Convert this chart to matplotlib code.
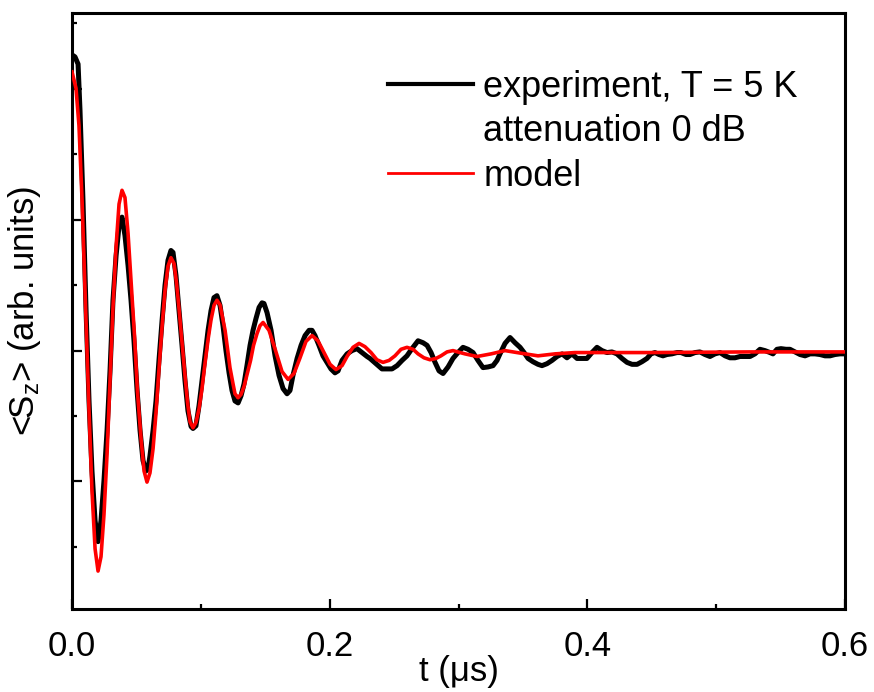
import matplotlib
matplotlib.use("Agg")
import matplotlib.pyplot as plt
from matplotlib.lines import Line2D
from matplotlib.ticker import FixedLocator, NullFormatter

plt.rcParams["font.family"] = ["Liberation Sans", "DejaVu Sans"]
plt.rcParams["mathtext.fontset"] = "custom"
plt.rcParams["mathtext.rm"] = "Liberation Sans"
plt.rcParams["mathtext.default"] = "regular"

# experiment, T = 5 K (time in us, <Sz> in arb. units)
t_exp = [0.0, 0.0023, 0.0047, 0.0062, 0.0085, 0.0109, 0.0132, 0.0155, 0.0179, 0.0202,
         0.0225, 0.0248, 0.0272, 0.0295, 0.0318, 0.0342, 0.0365, 0.0388, 0.0411, 0.0435,
         0.0458, 0.0481, 0.0505, 0.0528, 0.0551, 0.0574, 0.0590, 0.0605, 0.0629, 0.0652,
         0.0675, 0.0699, 0.0722, 0.0745, 0.0768, 0.0784, 0.0807, 0.0831, 0.0854, 0.0877,
         0.0900, 0.0924, 0.0939, 0.0962, 0.0986, 0.1009, 0.1032, 0.1056, 0.1079, 0.1102,
         0.1125, 0.1149, 0.1172, 0.1195, 0.1219, 0.1242, 0.1265, 0.1289, 0.1312, 0.1335,
         0.1358, 0.1382, 0.1405, 0.1428, 0.1452, 0.1475, 0.1490, 0.1514, 0.1545, 0.1576,
         0.1607, 0.1638, 0.1669, 0.1692, 0.1715, 0.1747, 0.1778, 0.1809, 0.1840, 0.1863,
         0.1886, 0.1917, 0.1948, 0.1979, 0.2010, 0.2041, 0.2065, 0.2096, 0.2135, 0.2173,
         0.2212, 0.2251, 0.2290, 0.2313, 0.2360, 0.2406, 0.2445, 0.2484, 0.2523, 0.2562,
         0.2600, 0.2639, 0.2686, 0.2725, 0.2756, 0.2787, 0.2818, 0.2849, 0.2880, 0.2919,
         0.2957, 0.2996, 0.3035, 0.3074, 0.3113, 0.3151, 0.3190, 0.3229, 0.3268, 0.3299,
         0.3322, 0.3361, 0.3400, 0.3439, 0.3478, 0.3509, 0.3540, 0.3578, 0.3617, 0.3648,
         0.3687, 0.3726, 0.3765, 0.3804, 0.3842, 0.3881, 0.3920, 0.3959, 0.3997, 0.4036,
         0.4075, 0.4114, 0.4153, 0.4191, 0.4230, 0.4269, 0.4308, 0.4347, 0.4386, 0.4424,
         0.4463, 0.4494, 0.4525, 0.4556, 0.4587, 0.4618, 0.4657, 0.4696, 0.4727, 0.4766,
         0.4797, 0.4836, 0.4874, 0.4913, 0.4952, 0.4991, 0.5030, 0.5069, 0.5107, 0.5146,
         0.5185, 0.5224, 0.5263, 0.5301, 0.5340, 0.5379, 0.5418, 0.5441, 0.5472, 0.5503,
         0.5542, 0.5573, 0.5612, 0.5651, 0.5690, 0.5729, 0.5767, 0.5806, 0.5845, 0.5884,
         0.5923, 0.5961, 0.6000]
s_exp = [4.52, 4.49, 4.38, 3.67, 2.30, 0.61, -0.77, -1.84, -2.60, -2.92,
         -2.60, -1.99, -1.22, -0.31, 0.77, 1.45, 1.91, 2.04, 1.76, 1.30,
         0.77, 0.15, -0.61, -1.22, -1.68, -1.84, -1.81, -1.61, -1.22, -0.77,
         -0.15, 0.46, 1.00, 1.38, 1.53, 1.50, 1.15, 0.61, 0.08, -0.46,
         -0.92, -1.16, -1.19, -1.15, -0.84, -0.46, -0.08, 0.31, 0.61, 0.81,
         0.84, 0.69, 0.38, 0.00, -0.34, -0.61, -0.77, -0.80, -0.69, -0.51,
         -0.23, 0.08, 0.31, 0.49, 0.66, 0.73, 0.72, 0.58, 0.31, -0.08,
         -0.38, -0.58, -0.66, -0.61, -0.38, -0.12, 0.08, 0.23, 0.31, 0.31,
         0.23, 0.08, -0.08, -0.18, -0.28, -0.34, -0.31, -0.15, -0.05, 0.00,
         0.03, -0.03, -0.09, -0.12, -0.20, -0.28, -0.28, -0.28, -0.23, -0.15,
         -0.08, 0.03, 0.15, 0.12, 0.08, -0.03, -0.18, -0.31, -0.35, -0.25,
         -0.12, -0.03, 0.05, 0.02, -0.03, -0.15, -0.26, -0.25, -0.23, -0.15,
         -0.05, 0.11, 0.20, 0.12, 0.05, -0.03, -0.12, -0.17, -0.21, -0.23,
         -0.20, -0.15, -0.09, -0.05, -0.11, -0.05, -0.12, -0.12, -0.12, -0.03,
         0.05, 0.00, -0.03, -0.02, -0.05, -0.12, -0.18, -0.21, -0.21, -0.17,
         -0.12, -0.05, -0.03, -0.06, -0.08, -0.06, -0.05, -0.03, -0.03, -0.06,
         -0.06, -0.03, -0.02, -0.06, -0.09, -0.05, -0.03, -0.08, -0.11, -0.11,
         -0.09, -0.09, -0.09, -0.05, 0.02, 0.00, -0.03, -0.05, 0.02, 0.03,
         0.02, 0.02, -0.02, -0.06, -0.08, -0.05, -0.05, -0.06, -0.08, -0.08,
         -0.06, -0.05, -0.05]

# model
t_mod = [0.0, 0.0031, 0.0054, 0.0078, 0.0109, 0.0132, 0.0155, 0.0179, 0.0202, 0.0225,
         0.0248, 0.0272, 0.0295, 0.0318, 0.0342, 0.0365, 0.0388, 0.0411, 0.0435, 0.0458,
         0.0485, 0.0508, 0.0536, 0.0559, 0.0582, 0.0605, 0.0629, 0.0652, 0.0675, 0.0699,
         0.0722, 0.0745, 0.0768, 0.0792, 0.0811, 0.0831, 0.0854, 0.0877, 0.0897, 0.0916,
         0.0939, 0.0962, 0.0986, 0.1009, 0.1032, 0.1056, 0.1079, 0.1102, 0.1125, 0.1149,
         0.1164, 0.1188, 0.1207, 0.1226, 0.1250, 0.1265, 0.1289, 0.1312, 0.1335, 0.1358,
         0.1386, 0.1409, 0.1436, 0.1459, 0.1483, 0.1529, 0.1580, 0.1630, 0.1677, 0.1723,
         0.1770, 0.1816, 0.1863, 0.1909, 0.1956, 0.2003, 0.2049, 0.2096, 0.2135, 0.2181,
         0.2228, 0.2274, 0.2321, 0.2367, 0.2414, 0.2461, 0.2507, 0.2554, 0.2600, 0.2647,
         0.2686, 0.2732, 0.2779, 0.2825, 0.2864, 0.2911, 0.2957, 0.3050, 0.3144, 0.3253,
         0.3361, 0.3485, 0.3617, 0.3749, 0.3904, 0.4486, 0.5263, 0.6000]
s_mod = [4.26, 4.01, 3.44, 2.30, 0.44, -0.92, -2.14, -3.03, -3.37, -3.15,
         -2.51, -1.58, -0.46, 0.66, 1.59, 2.24, 2.45, 2.34, 1.79, 1.07,
         0.23, -0.63, -1.35, -1.84, -2.01, -1.87, -1.50, -0.95, -0.29, 0.37,
         0.92, 1.29, 1.42, 1.33, 1.04, 0.63, 0.12, -0.38, -0.80, -1.09,
         -1.18, -1.10, -0.89, -0.58, -0.20, 0.17, 0.47, 0.69, 0.77, 0.70,
         0.55, 0.31, 0.03, -0.26, -0.51, -0.66, -0.72, -0.67, -0.55, -0.37,
         -0.15, 0.08, 0.26, 0.38, 0.43, 0.31, 0.00, -0.32, -0.44, -0.35,
         -0.11, 0.14, 0.23, 0.15, -0.03, -0.21, -0.29, -0.23, -0.09, 0.05,
         0.11, 0.06, -0.03, -0.14, -0.18, -0.15, -0.08, 0.02, 0.05, 0.02,
         -0.05, -0.11, -0.14, -0.12, -0.08, -0.02, 0.00, -0.05, -0.09, -0.05,
         0.00, -0.04, -0.08, -0.05, -0.03, -0.03, -0.02, -0.02]

x_major = [0.0, 0.2, 0.4, 0.6]
x_minor = [0.1, 0.3, 0.5]
x_labels = ["0.0", "0.2", "0.4", "0.6"]
y_major = [-2, 0, 2, 4]
y_minor = [-3, -1, 1, 3, 5]

legend_labels = ["experiment, T = 5 K", "attenuation 0 dB", "model"]


def main():
    fig = plt.figure(figsize=(8.74, 6.92), dpi=100)
    ax = fig.add_axes([0.0824, 0.1199, 0.8844, 0.8613])

    ax.plot(t_exp, s_exp, color="black", lw=3.6, solid_joinstyle="round", zorder=2)
    ax.plot(t_mod, s_mod, color="#ff0000", lw=2.6, solid_joinstyle="round", zorder=3)

    ax.set_xlim(0.0, 0.6)
    ax.set_ylim(-3.95, 5.16)

    ax.xaxis.set_major_locator(FixedLocator(x_major))
    ax.xaxis.set_minor_locator(FixedLocator(x_minor))
    ax.set_xticklabels(x_labels)
    ax.yaxis.set_major_locator(FixedLocator(y_major))
    ax.yaxis.set_minor_locator(FixedLocator(y_minor))
    ax.yaxis.set_major_formatter(NullFormatter())

    for side in ["left", "right", "top", "bottom"]:
        ax.spines[side].set_linewidth(2.2)
    ax.tick_params(which="both", direction="in", top=False, right=False, width=1.6)
    ax.tick_params(which="major", length=7.5)
    ax.tick_params(which="minor", length=3.8)
    ax.tick_params(axis="x", which="major", labelsize=25, pad=15)

    ax.set_xlabel("t (\u03bcs)", fontsize=25, va="top")
    ax.xaxis.set_label_coords(0.5, -0.077)
    ax.set_ylabel("<S$_z$> (arb. units)", fontsize=25)
    ax.yaxis.set_label_coords(-0.038, 0.5)

    handles = [
        Line2D([], [], color="black", lw=3.0),
        Line2D([], [], color="none", lw=0),
        Line2D([], [], color="#ff0000", lw=2.0),
    ]
    ax.legend(handles, legend_labels, loc="upper left", bbox_to_anchor=(0.409, 0.905),
              frameon=False, fontsize=26, handlelength=2.36, handletextpad=0.28,
              labelspacing=0.27, borderpad=0, borderaxespad=0)

    fig.savefig("out.png", dpi=100)
    plt.close(fig)


if __name__ == "__main__":
    main()
